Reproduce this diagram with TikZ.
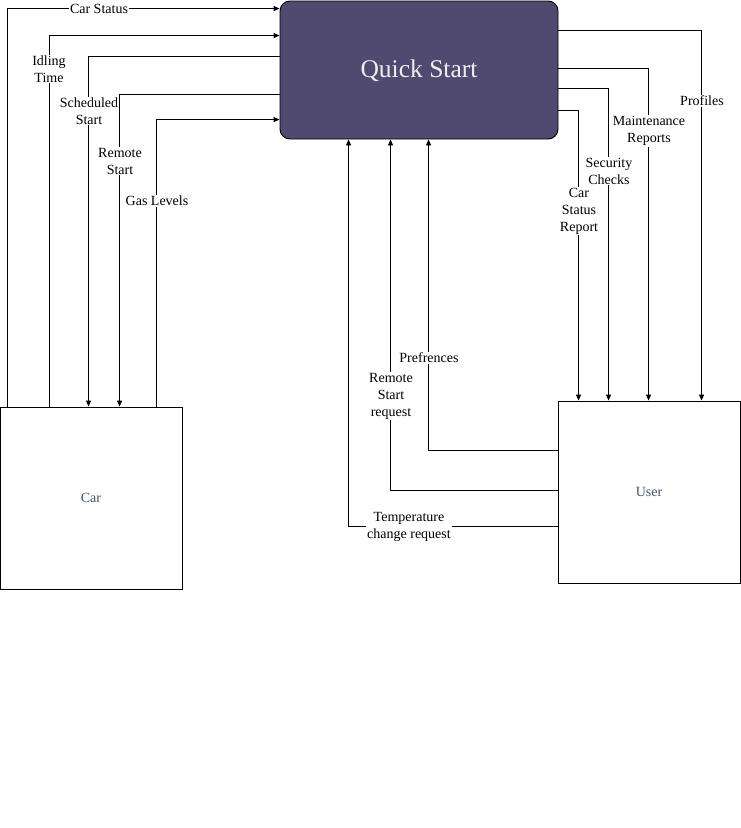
\documentclass[tikz,border=0pt]{standalone}
\usepackage{fontspec}
\setmainfont{Liberation Serif}
\usetikzlibrary{arrows.meta}
\definecolor{qsfill}{RGB}{80,74,112}
\definecolor{boxtext}{RGB}{60,82,112}
\begin{document}
\begin{tikzpicture}[x=1pt,y=-1pt,
  conn/.style={draw=black, line width=0.9pt},
  arr/.style={conn,-{Triangle[length=6pt,width=5pt]}},
  lbl/.style={fill=white, inner sep=1pt, font=\fontsize{14}{17}\selectfont, align=center},
  ent/.style={draw=black, line width=0.9pt, minimum width=182pt, minimum height=182pt, inner sep=0pt, font=\fontsize{14}{17}\selectfont, text=boxtext},
  qsbox/.style={draw=black, line width=0.9pt, fill=qsfill, rounded corners=10pt, minimum width=278pt, minimum height=138pt, inner sep=0pt, font=\fontsize{25.5}{30}\selectfont, text=white!93!black}]
\useasboundingbox (0,0) rectangle (741,828);
\node[qsbox] (qs) at (419,70) {};
\node[font=\fontsize{25.5}{30}\selectfont, text=white!93!black, inner sep=0pt] (qst) at (419,71) {Quick Start};
\node[ent] (car) at (91,498) {Car};
\node[ent] (user) at (649,492) {User};
% Car <-> Quick Start
\draw[arr] ([xshift=8pt]car.north west) |- ([yshift=-8pt]qs.north west);
\draw[arr] ([xshift=50pt]car.north west) |- ([yshift=-35pt]qs.north west);
\draw[arr] ([yshift=-56pt]qs.north west) -| ([xshift=89pt]car.north west);
\draw[arr] ([yshift=-94pt]qs.north west) -| ([xshift=120pt]car.north west);
\draw[arr] ([xshift=157pt]car.north west) |- ([yshift=-119pt]qs.north west);
% Quick Start -> User
\draw[arr] ([yshift=-30pt]qs.north east) -| ([xshift=144pt]user.north west);
\draw[arr] ([yshift=-68pt]qs.north east) -| ([xshift=91pt]user.north west);
\draw[arr] ([yshift=-88pt]qs.north east) -| ([xshift=51pt]user.north west);
\draw[arr] ([yshift=-110pt]qs.north east) -| ([xshift=21pt]user.north west);
% User -> Quick Start
\draw[arr] ([yshift=-50pt]user.north west) -| ([xshift=149pt]qs.south west);
\draw[arr] ([yshift=-90pt]user.north west) -| ([xshift=111pt]qs.south west);
\draw[arr] ([yshift=-126pt]user.north west) -| ([xshift=69pt]qs.south west);
% labels
\node[lbl] (l1) at (99,9) {Car Status};
\node[lbl] (l2) at (49,69) {Idling\\Time};
\node[lbl] (l3) at (89,111) {Scheduled\\Start};
\node[lbl] (l4) at (120,161) {Remote\\Start};
\node[lbl] (l5) at (157,201) {Gas Levels};
\node[lbl] (l6) at (702,101) {Profiles};
\node[lbl] (l7) at (649,131) {Maintenance\\Reports};
\node[lbl] (l8) at (609,171) {Security\\Checks};
\node[lbl] (l9) at (579,211) {Car\\Status\\Report};
\node[lbl] (l10) at (429,358) {Prefrences};
\node[lbl] (l11) at (391,396) {Remote\\Start\\request};
\node[lbl] (l12) at (409,527) {Temperature\\change request};
\end{tikzpicture}
\end{document}
